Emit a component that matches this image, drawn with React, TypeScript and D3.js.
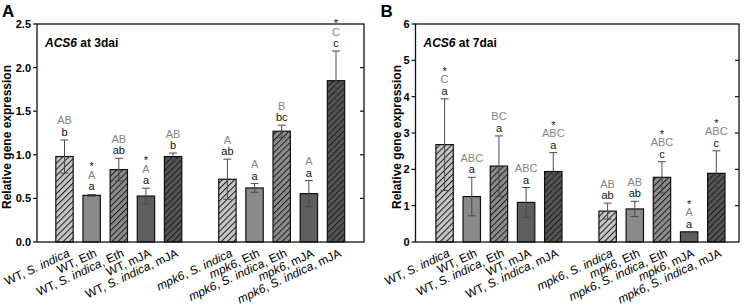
import React from "react";
import * as d3 from "d3";

const categories = [
  "WT, S. indica",
  "WT, Eth",
  "WT, S. indica, Eth",
  "WT, mJA",
  "WT, S. indica, mJA",
  "mpk6, S. indica",
  "mpk6, Eth",
  "mpk6, S. indica, Eth",
  "mpk6, mJA",
  "mpk6, S. indica, mJA",
];
const GAP = "__gap__";
const slots = [...categories.slice(0, 5), GAP, ...categories.slice(5)];
const fillKinds = ["lightHatch", "mid", "midHatch", "dark", "darkHatch"];

const valuesA = [0.98, 0.535, 0.83, 0.527, 0.98, 0.72, 0.62, 1.27, 0.555, 1.85];
const errorsA = [0.19, 0.01, 0.13, 0.09, 0.04, 0.23, 0.05, 0.07, 0.15, 0.34];
const upperA = ["AB", "A", "AB", "A", "AB", "A", "A", "B", "A", "C"];
const lowerA = ["b", "a", "ab", "a", "b", "ab", "a", "bc", "a", "c"];
const starA = [false, true, false, true, false, false, false, false, false, true];
const ticksA = [0, 0.5, 1, 1.5, 2, 2.5];

const valuesB = [2.68, 1.25, 2.09, 1.09, 1.94, 0.85, 0.91, 1.78, 0.28, 1.89];
const errorsB = [1.26, 0.53, 0.83, 0.41, 0.52, 0.22, 0.21, 0.43, 0, 0.62];
const upperB = ["C", "ABC", "BC", "ABC", "ABC", "AB", "AB", "ABC", "A", "ABC"];
const lowerB = ["a", "a", "a", "a", "a", "ab", "ab", "c", "a", "c"];
const starB = [true, false, false, false, true, false, false, true, true, true];
const ticksB = [0, 1, 2, 3, 4, 5, 6];

const FONT = "'Liberation Sans', Arial, Helvetica, sans-serif";

const fills: Record<string, string> = {
  lightHatch: "url(#hLight)",
  mid: "#8a8a8a",
  midHatch: "url(#hMid)",
  dark: "#5e5e5e",
  darkHatch: "url(#hDark)",
};

function Label({ text }: { text: string }) {
  const parts = text.split(/(S\. indica|mpk6)/).filter((p) => p.length);
  return (
    <>
      {parts.map((p, i) => (
        <tspan key={i} fontStyle={p === "S. indica" || p === "mpk6" ? "italic" : "normal"}>
          {p}
        </tspan>
      ))}
    </>
  );
}

type PanelProps = {
  letter: string;
  day: string;
  left: number;
  right: number;
  c0: number;
  step: number;
  yMax: number;
  ticks: number[];
  fmt: (v: number) => string;
  values: number[];
  errors: number[];
  upper: string[];
  lower: string[];
  star: boolean[];
  yLabelX: number;
};

function Panel(p: PanelProps) {
  const top = 24;
  const bottom = 242;
  const y = d3.scaleLinear().domain([0, p.yMax]).range([bottom, top]);
  const x = d3
    .scaleBand<string>()
    .domain(slots)
    .range([p.c0 - p.step / 2, p.c0 + p.step * 10.5])
    .paddingInner(0.36)
    .paddingOuter(0.18);
  const bw = x.bandwidth();
  return (
    <g fontFamily={FONT}>
      <text x={p.left - 35} y={17} fontSize={17} fontWeight="bold">
        {p.letter}
      </text>
      <text
        transform={`translate(${p.yLabelX},${(top + bottom) / 2 + 4}) rotate(-90)`}
        textAnchor="middle"
        fontSize={12}
        fontWeight="bold"
      >
        Relative gene expression
      </text>
      {categories.map((c, i) => {
        const xl = x(c)!;
        const v = p.values[i];
        const e = p.errors[i];
        const cx = xl + bw / 2;
        return (
          <g key={c}>
            <rect
              x={xl}
              y={y(v)}
              width={bw}
              height={y(0) - y(v)}
              fill={fills[fillKinds[i % 5]]}
              stroke="#111"
              strokeWidth={1.2}
            />
            {e > 0 && (
              <g stroke="#4a4a4a" strokeWidth={1}>
                <line x1={cx} x2={cx} y1={y(v - e)} y2={y(v + e)} />
                <line x1={cx - 4} x2={cx + 4} y1={y(v + e)} y2={y(v + e)} />
                <line x1={cx - 4} x2={cx + 4} y1={y(v - e)} y2={y(v - e)} />
              </g>
            )}
          </g>
        );
      })}
      {categories.map((c, i) => {
        const cx = x(c)! + bw / 2;
        const base = y(p.values[i] + p.errors[i]) - 4;
        return (
          <g key={"l" + c} textAnchor="middle" fontSize={11}>
            <text x={cx} y={base} fill="#111">
              {p.lower[i]}
            </text>
            <text x={cx} y={base - 11.5} fill="#858585">
              {p.upper[i]}
            </text>
            {p.star[i] && (
              <text x={cx} y={base - 20} fill="#111">
                *
              </text>
            )}
          </g>
        );
      })}
      <rect x={p.left} y={top} width={p.right - p.left} height={bottom - top} fill="none" stroke="#111" strokeWidth={1.3} />
      {p.ticks.map((t) => (
        <g key={t}>
          <line x1={p.left - 4} x2={p.left} y1={y(t)} y2={y(t)} stroke="#111" strokeWidth={1.2} />
          {t > 0 && t < p.yMax && (
            <line x1={p.right - 4} x2={p.right} y1={y(t)} y2={y(t)} stroke="#111" strokeWidth={1.2} />
          )}
          <text x={p.left - 6} y={y(t)} dy="0.36em" textAnchor="end" fontSize={11} fontWeight="bold">
            {p.fmt(t)}
          </text>
        </g>
      ))}
      <text x={p.left + 8} y={47} fontSize={12} fontWeight="bold">
        <tspan fontStyle="italic">ACS6</tspan> at {p.day}
      </text>
      {categories.map((c) => {
        const cx = x(c)! + bw / 2;
        return (
          <text
            key={"x" + c}
            transform={`translate(${cx + 6},${bottom + 14}) rotate(-25)`}
            textAnchor="end"
            fontSize={12}
          >
            <Label text={c} />
          </text>
        );
      })}
    </g>
  );
}

function Hatch({ id, bg }: { id: string; bg: string }) {
  return (
    <pattern id={id} patternUnits="userSpaceOnUse" width={4.3} height={4.3} patternTransform="rotate(45)">
      <rect width={4.3} height={4.3} fill={bg} />
      <line x1={0.5} y1={0} x2={0.5} y2={4.3} stroke="#1a1a1a" strokeWidth={1} />
    </pattern>
  );
}

export default function App() {
  return (
    <svg
      width={746}
      height={308}
      style={{ position: "absolute", left: 0, top: 0, background: "#fff" }}
    >
      <defs>
        <Hatch id="hLight" bg="#c6c6c6" />
        <Hatch id="hMid" bg="#8c8c8c" />
        <Hatch id="hDark" bg="#555555" />
      </defs>
      <rect width={746} height={308} fill="#fff" />
      <Panel
        letter="A"
        day="3dai"
        left={37}
        right={364}
        c0={64.5}
        step={27.15}
        yMax={2.5}
        ticks={ticksA}
        fmt={d3.format(".1f")}
        values={valuesA}
        errors={errorsA}
        upper={upperA}
        lower={lowerA}
        star={starA}
        yLabelX={11}
      />
      <Panel
        letter="B"
        day="7dai"
        left={415.5}
        right={739}
        c0={444.6}
        step={27.17}
        yMax={6}
        ticks={ticksB}
        fmt={d3.format("d")}
        values={valuesB}
        errors={errorsB}
        upper={upperB}
        lower={lowerB}
        star={starB}
        yLabelX={400.5}
      />
    </svg>
  );
}
